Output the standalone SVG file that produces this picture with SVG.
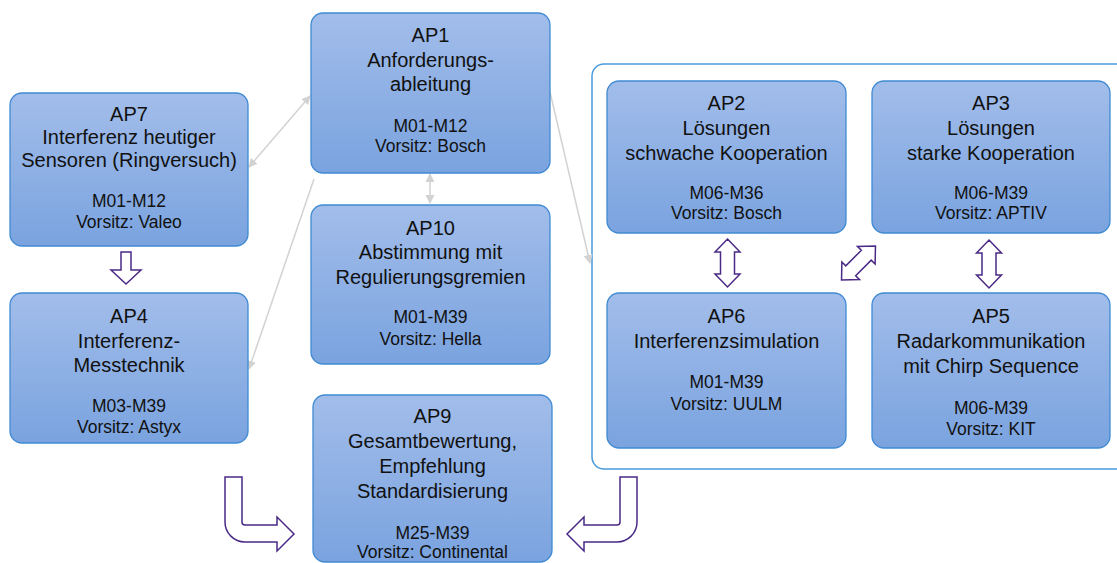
<svg xmlns="http://www.w3.org/2000/svg" width="1117" height="563" viewBox="0 0 1117 563">
<style>
.box{fill:url(#g);stroke:#3f8ad2;stroke-width:1.3}
.t{font-family:"Liberation Sans",Arial,sans-serif;font-size:20px;fill:#111;text-anchor:middle}
.s{font-family:"Liberation Sans",Arial,sans-serif;font-size:17.5px;fill:#111;text-anchor:middle}
.c{stroke:#d2d2d2;stroke-width:1.5;fill:none;marker-end:url(#ah)}
.cb{marker-start:url(#ah)}
.blk{fill:#fff;stroke:#4a2a86;stroke-width:1.5;stroke-linejoin:miter}
</style>
<defs>
<linearGradient id="g" x1="0" y1="0" x2="0" y2="1">
<stop offset="0" stop-color="#a2bdea"/>
<stop offset="1" stop-color="#7aa3df"/>
</linearGradient>
<marker id="ah" viewBox="0 0 10 10" refX="9" refY="5" markerWidth="6" markerHeight="6" orient="auto-start-reverse" markerUnits="strokeWidth">
<path d="M0,0 L10,5 L0,10 Z" fill="#d2d2d2"/>
</marker>
<path id="da" d="M0,-24 L12.5,-11 L7,-11 L7,11 L12.5,11 L0,24 L-12.5,11 L-7,11 L-7,-11 L-12.5,-11 Z"/>
</defs>
<rect width="1117" height="563" fill="#fff"/>
<g id="container">
<rect x="592" y="64" width="545" height="405" rx="12" fill="#fff" stroke="#4a9ad9" stroke-width="1.5"/>
</g>
<g id="connectors">
<line class="c cb" x1="249" y1="167" x2="310" y2="96"/>
<line class="c" x1="314" y1="179" x2="249" y2="369"/>
<line class="c cb" x1="430" y1="174" x2="430" y2="203"/>
<line class="c" x1="550" y1="92" x2="590" y2="263"/>
<path class="blk" d="M121,252 L131,252 L131,270 L141,270 L126,284 L111,270 L121,270 Z"/>
<use href="#da" class="blk" transform="translate(727.5,263)"/>
<use href="#da" class="blk" transform="translate(989,264)"/>
<use href="#da" class="blk" transform="translate(858.5,263) rotate(45)"/>
<path class="blk" d="M225,477 L242,477 L242,522 Q242,525 245,525 L277,525 L277,517 L294,534 L277,551 L277,542 L245,542 A20,20 0 0 1 225,522 Z"/>
<path class="blk" d="M637,477 L620,477 L620,522 Q620,525 617,525 L584,525 L584,517 L567,534 L584,551 L584,542 L617,542 A20,20 0 0 0 637,522 Z"/>
</g>
<g id="AP7">
<rect class="box" x="10" y="93" width="238" height="153" rx="12"/>
<text class="t" x="129" y="121">AP7</text>
<text class="t" x="129" y="144">Interferenz heutiger</text>
<text class="t" x="129" y="167">Sensoren (Ringversuch)</text>
<text class="s" x="129" y="207">M01-M12</text>
<text class="s" x="129" y="228">Vorsitz: Valeo</text>
</g>
<g id="AP4">
<rect class="box" x="10" y="293" width="238" height="150" rx="12"/>
<text class="t" x="129" y="323">AP4</text>
<text class="t" x="129" y="348">Interferenz-</text>
<text class="t" x="129" y="372">Messtechnik</text>
<text class="s" x="129" y="412">M03-M39</text>
<text class="s" x="129" y="433">Vorsitz: Astyx</text>
</g>
<g id="AP1">
<rect class="box" x="311" y="13" width="239" height="160" rx="12"/>
<text class="t" x="430.5" y="42">AP1</text>
<text class="t" x="430.5" y="67">Anforderungs-</text>
<text class="t" x="430.5" y="91">ableitung</text>
<text class="s" x="430.5" y="132">M01-M12</text>
<text class="s" x="430.5" y="152">Vorsitz: Bosch</text>
</g>
<g id="AP10">
<rect class="box" x="311" y="205" width="239" height="159" rx="12"/>
<text class="t" x="430.5" y="235">AP10</text>
<text class="t" x="430.5" y="259">Abstimmung mit</text>
<text class="t" x="430.5" y="284">Regulierungsgremien</text>
<text class="s" x="430.5" y="323">M01-M39</text>
<text class="s" x="430.5" y="345">Vorsitz: Hella</text>
</g>
<g id="AP9">
<rect class="box" x="313" y="395" width="239" height="167" rx="12"/>
<text class="t" x="432.5" y="423">AP9</text>
<text class="t" x="432.5" y="448">Gesamtbewertung,</text>
<text class="t" x="432.5" y="473">Empfehlung</text>
<text class="t" x="432.5" y="498">Standardisierung</text>
<text class="s" x="432.5" y="539">M25-M39</text>
<text class="s" x="432.5" y="558">Vorsitz: Continental</text>
</g>
<g id="AP2">
<rect class="box" x="607" y="81" width="239" height="152" rx="12"/>
<text class="t" x="726.5" y="110">AP2</text>
<text class="t" x="726.5" y="135">Lösungen</text>
<text class="t" x="726.5" y="160">schwache Kooperation</text>
<text class="s" x="726.5" y="199">M06-M36</text>
<text class="s" x="726.5" y="219">Vorsitz: Bosch</text>
</g>
<g id="AP3">
<rect class="box" x="872" y="81" width="238" height="152" rx="12"/>
<text class="t" x="991" y="110">AP3</text>
<text class="t" x="991" y="135">Lösungen</text>
<text class="t" x="991" y="160">starke Kooperation</text>
<text class="s" x="991" y="199">M06-M39</text>
<text class="s" x="991" y="219">Vorsitz: APTIV</text>
</g>
<g id="AP6">
<rect class="box" x="607" y="293" width="239" height="155" rx="12"/>
<text class="t" x="726.5" y="323">AP6</text>
<text class="t" x="726.5" y="348">Interferenzsimulation</text>
<text class="s" x="726.5" y="388">M01-M39</text>
<text class="s" x="726.5" y="410">Vorsitz: UULM</text>
</g>
<g id="AP5">
<rect class="box" x="872" y="293" width="238" height="155" rx="12"/>
<text class="t" x="991" y="323">AP5</text>
<text class="t" x="991" y="348">Radarkommunikation</text>
<text class="t" x="991" y="373">mit Chirp Sequence</text>
<text class="s" x="991" y="414">M06-M39</text>
<text class="s" x="991" y="435">Vorsitz: KIT</text>
</g>
</svg>
